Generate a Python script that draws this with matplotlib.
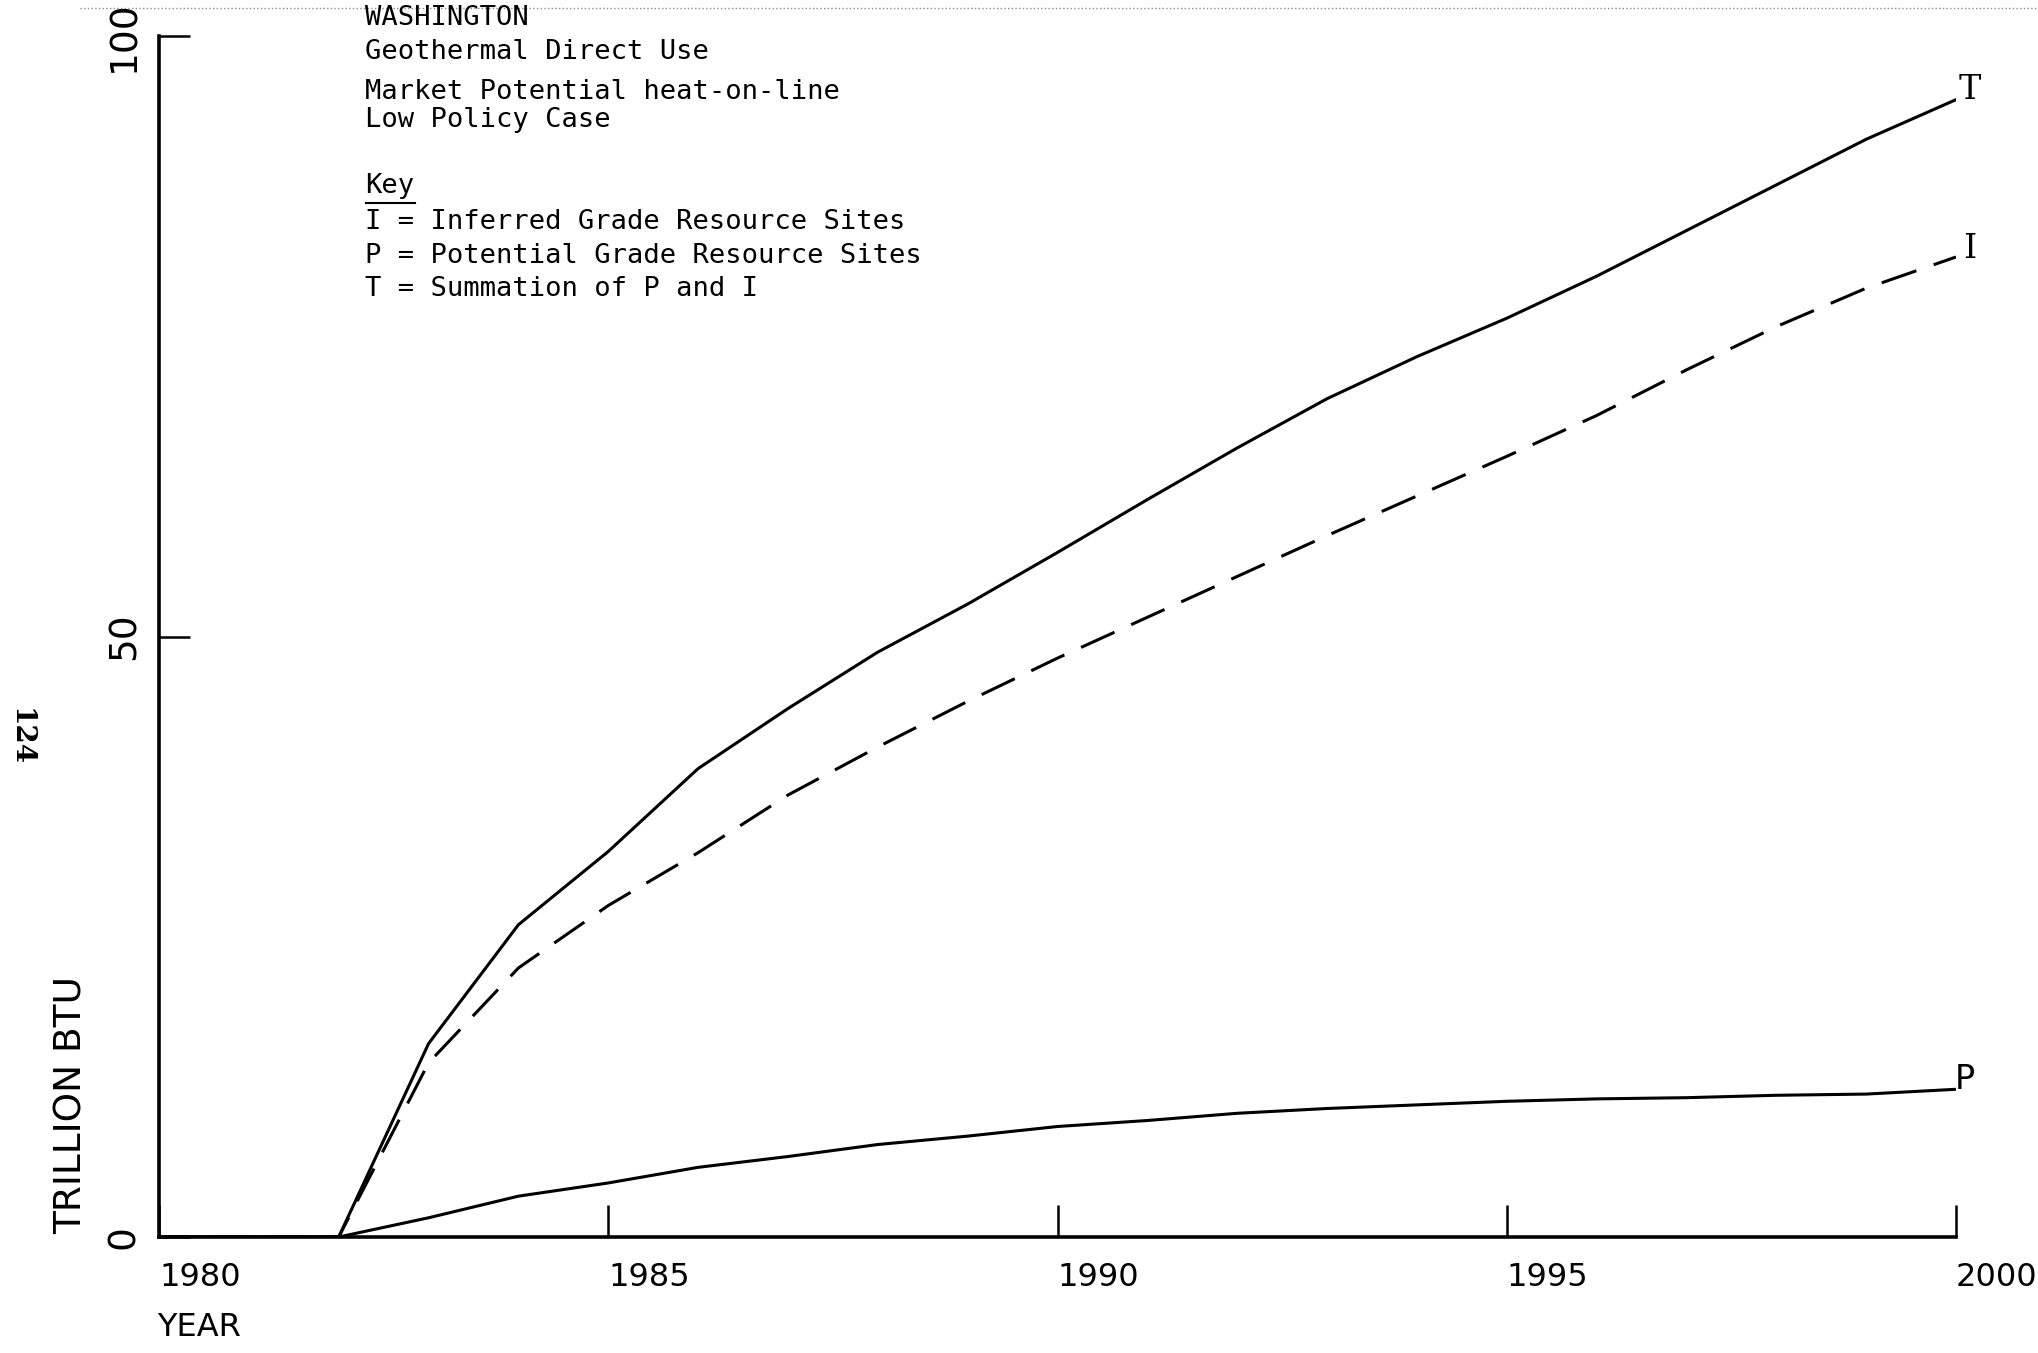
import matplotlib
matplotlib.use('Agg')
import matplotlib.pyplot as plt

# dados (trilhoes de BTU por ano)
years = list(range(1980, 2001))
total = [0, 0, 0, 16.1, 26.0, 32.1, 39.0, 44.0, 48.7, 52.7, 57.0,
         61.4, 65.7, 69.8, 73.3, 76.5, 80.0, 83.8, 87.6, 91.4, 94.7]
inferred = [0, 0, 0, 14.5, 22.4, 27.6, 32.0, 36.8, 40.8, 44.6, 48.2,
            51.6, 55.0, 58.4, 61.7, 65.0, 68.4, 72.2, 75.8, 79.0, 81.6]
potential = [0, 0, 0, 1.6, 3.4, 4.5, 5.8, 6.7, 7.7, 8.4, 9.2,
             9.7, 10.3, 10.7, 11.0, 11.3, 11.5, 11.6, 11.8, 11.9, 12.3]

x_ticks = [1980, 1985, 1990, 1995, 2000]
y_ticks = [0, 50, 100]

header = ['WASHINGTON', 'Geothermal Direct Use',
          'Market Potential heat-on-line', 'Low Policy Case']
key_lines = ['I = Inferred Grade Resource Sites',
             'P = Potential Grade Resource Sites',
             'T = Summation of P and I']

W, H = 2038, 1353
fig = plt.figure(figsize=(W / 100, H / 100), dpi=100)
ax = fig.add_axes([159 / W, 1 - 1237 / H, (1956 - 159) / W, (1237 - 36) / H])

ax.plot(years, total, color='black', lw=2.2)
ax.plot(years, inferred, color='black', lw=2.2, dashes=(12, 6))
ax.plot(years, potential, color='black', lw=2.2)

ax.set_xlim(1980, 2000)
ax.set_ylim(0, 100)
ax.spines['top'].set_visible(False)
ax.spines['right'].set_visible(False)
ax.spines['left'].set_linewidth(2.6)
ax.spines['bottom'].set_linewidth(2.6)

ax.set_xticks(x_ticks)
ax.set_xticklabels([str(v) for v in x_ticks])
ax.set_yticks(y_ticks)
ax.set_yticklabels([str(v) for v in y_ticks], rotation=90, va='center')
ax.tick_params(axis='x', direction='in', length=23, width=1.8, pad=18, labelsize=23)
ax.tick_params(axis='y', direction='in', length=22, width=1.8, pad=12, labelsize=27)
for lbl in ax.get_xticklabels():
    lbl.set_ha('left')

# rotulos no fim das curvas
ax.annotate('T', (years[-1], total[-1]), xytext=(10, 7), textcoords='offset points',
            ha='center', va='center', fontsize=24, family='DejaVu Serif', annotation_clip=False)
ax.annotate('I', (years[-1], inferred[-1]), xytext=(10, 6), textcoords='offset points',
            ha='center', va='center', fontsize=24, family='DejaVu Serif', annotation_clip=False)
ax.annotate('P', (years[-1], potential[-1]), xytext=(6, 7), textcoords='offset points',
            ha='center', va='center', fontsize=24, family='DejaVu Sans', annotation_clip=False)

# textos do cabecalho e da legenda
mono = 'DejaVu Sans Mono'
for txt, y in zip(header, [18, 52, 92, 120]):
    fig.text(365 / W, 1 - y / H, txt, family=mono, fontsize=19.5, va='center', ha='left')
fig.text(365 / W, 1 - 186 / H, 'Key', family=mono, fontsize=19.5, va='center', ha='left')
fig.add_artist(plt.Line2D([366 / W, 415 / W], [1 - 203 / H, 1 - 203 / H], color='black', lw=1.5))
for txt, y in zip(key_lines, [222, 256, 289]):
    fig.text(365 / W, 1 - y / H, txt, family=mono, fontsize=19.5, va='center', ha='left')

fig.text(72 / W, 1 - 1105 / H, 'TRILLION BTU', rotation=90, fontsize=27,
         va='center', ha='center')
fig.text(157 / W, 1 - 1327 / H, 'YEAR', fontsize=23, va='center', ha='left')
fig.text(20 / W, 1 - 737 / H, '124', rotation=-90, fontsize=20, family='DejaVu Serif',
         fontweight='bold', va='center', ha='center')

# borda pontilhada da digitalizacao no topo
fig.add_artist(plt.Line2D([80 / W, 1], [1 - 8 / H, 1 - 8 / H], color='0.55', lw=1, ls=':'))

fig.savefig('out.png', dpi=100, facecolor='white')
